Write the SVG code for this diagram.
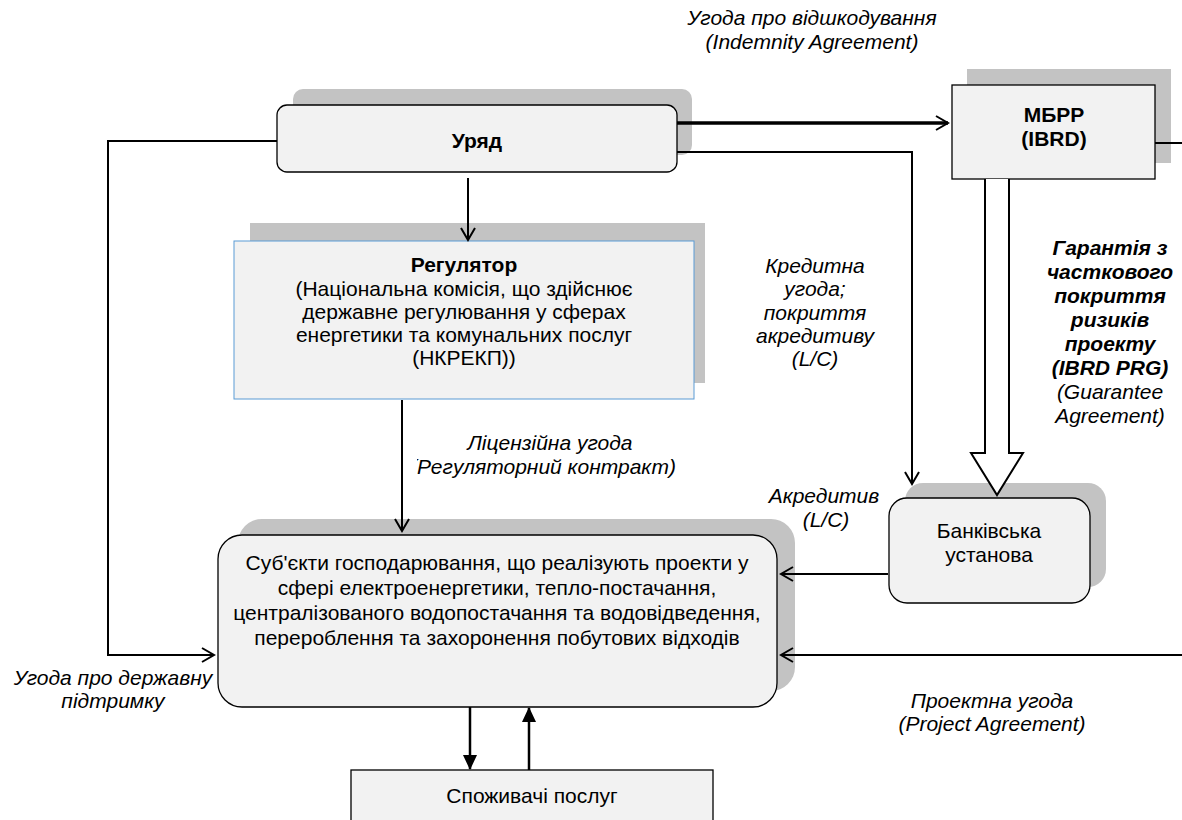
<svg xmlns="http://www.w3.org/2000/svg" width="1182" height="820" viewBox="0 0 1182 820">
<style>
.sh{fill:#c3c3c3;stroke:none}
.bx{fill:#f2f2f2;stroke:#000;stroke-width:1.3}
.t{font-family:"Liberation Sans",Arial,sans-serif;font-size:21px;fill:#000;text-anchor:middle}
.b{font-weight:bold}
.i{font-style:italic}
.ln{fill:none;stroke:#000;stroke-width:2}
</style>
<defs>
<marker id="open" markerWidth="16" markerHeight="16" refX="13" refY="8" orient="auto" markerUnits="userSpaceOnUse">
<path d="M1,1 L13,8 L1,15" fill="none" stroke="#000" stroke-width="2"/>
</marker>
<marker id="fill" markerWidth="16" markerHeight="16" refX="14" refY="8" orient="auto" markerUnits="userSpaceOnUse">
<path d="M0,1 L15,8 L0,15 Z" fill="#000"/>
</marker>
<clipPath id="clipLic"><rect x="417" y="420" width="400" height="70"/></clipPath>
</defs>

<g id="node-uryad">
<rect class="sh" x="293" y="89" width="399" height="66" rx="10"/>
<rect class="bx" x="277" y="105" width="400" height="67" rx="10"/>
<text class="t b" x="477" y="148">Уряд</text>
</g>

<g id="node-ibrd">
<rect class="sh" x="967" y="69" width="204" height="94"/>
<rect class="bx" x="952" y="85" width="203" height="94"/>
<text class="t b" x="1054" y="122">МБРР</text>
<text class="t b" x="1054" y="146">(IBRD)</text>
</g>

<g id="node-regulator">
<rect class="sh" x="250" y="223" width="455" height="160"/>
<rect x="234" y="241" width="460" height="158" fill="#f2f2f2" stroke="#5b9bd5" stroke-width="1"/>
<text class="t b" x="464" y="272">Регулятор</text>
<text class="t" x="464" y="296">(Національна комісія, що здійснює</text>
<text class="t" x="464" y="319">державне регулювання у сферах</text>
<text class="t" x="464" y="342">енергетики та комунальних послуг</text>
<text class="t" x="464" y="365">(НКРЕКП))</text>
</g>

<g id="node-bank">
<rect class="sh" x="905" y="483" width="201" height="104" rx="18"/>
<rect class="bx" x="889" y="498" width="201" height="105" rx="18"/>
<text class="t" x="989" y="538">Банківська</text>
<text class="t" x="989" y="562">установа</text>
</g>

<g id="node-entities">
<rect class="sh" x="238" y="519" width="557" height="172" rx="24"/>
<rect class="bx" x="218" y="535" width="559" height="172" rx="24"/>
<text class="t" x="497" y="570">Суб'єкти господарювання, що реалізують проекти у</text>
<text class="t" x="497" y="595">сфері електроенергетики, тепло-постачання,</text>
<text class="t" x="497" y="620">централізованого водопостачання та водовідведення,</text>
<text class="t" x="497" y="645">перероблення та захоронення побутових відходів</text>
</g>

<g id="node-consumers">
<rect class="bx" x="351" y="770" width="362" height="60"/>
<text class="t" x="532" y="803">Споживачі послуг</text>
</g>

<g id="connectors">
<line class="ln" x1="677" y1="123" x2="948" y2="123" style="stroke-width:3.5" marker-end="url(#open)"/>
<polyline class="ln" points="677,152 912,152 912,484" marker-end="url(#open)"/>
<line class="ln" x1="1155" y1="143" x2="1182" y2="143"/>
<line class="ln" x1="468" y1="178" x2="468" y2="240" marker-end="url(#open)"/>
<line class="ln" x1="402" y1="400" x2="402" y2="531" marker-end="url(#open)"/>
<polyline class="ln" points="277,141 108,141 108,655 214,655" marker-end="url(#open)"/>
<line class="ln" x1="888" y1="574" x2="781" y2="574" marker-end="url(#open)"/>
<line class="ln" x1="1182" y1="655" x2="781" y2="655" marker-end="url(#open)"/>
<line class="ln" x1="470" y1="707" x2="470" y2="769" style="stroke-width:2.5" marker-end="url(#fill)"/>
<line class="ln" x1="529" y1="770" x2="529" y2="708" style="stroke-width:2.5" marker-end="url(#fill)"/>
<path d="M985,179 L985,453 L971,453 L997,495 L1023,453 L1009,453 L1009,179" fill="#fff" stroke="#000" stroke-width="2"/>
</g>

<g id="labels">
<text class="t i" x="812" y="25">Угода про відшкодування</text>
<text class="t i" x="812" y="49">(Indemnity Agreement)</text>
<text class="t i" x="815" y="273">Кредитна</text>
<text class="t i" x="815" y="296">угода;</text>
<text class="t i" x="815" y="320">покриття</text>
<text class="t i" x="815" y="343">акредитиву</text>
<text class="t i" x="815" y="366">(L/C)</text>
<text class="t b i" x="1110" y="255">Гарантія з</text>
<text class="t b i" x="1110" y="279">часткового</text>
<text class="t b i" x="1110" y="303">покриття</text>
<text class="t b i" x="1110" y="327">ризиків</text>
<text class="t b i" x="1110" y="351">проекту</text>
<text class="t b i" x="1110" y="375">(IBRD PRG)</text>
<text class="t i" x="1110" y="399">(Guarantee</text>
<text class="t i" x="1110" y="423">Agreement)</text>
<text class="t i" x="550" y="450">Ліцензійна угода</text>
<g clip-path="url(#clipLic)"><text class="t i" x="676" y="474" style="text-anchor:end">(Регуляторний контракт)</text></g>
<text class="t i" x="824" y="503">Акредитив</text>
<text class="t i" x="826" y="527">(L/C)</text>
<text class="t i" x="113" y="685">Угода про державну</text>
<text class="t i" x="113" y="708">підтримку</text>
<text class="t i" x="992" y="708">Проектна угода</text>
<text class="t i" x="992" y="731">(Project Agreement)</text>
</g>
</svg>
